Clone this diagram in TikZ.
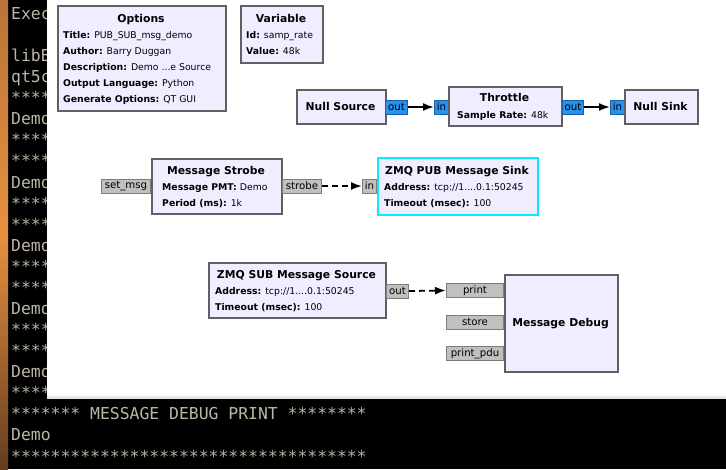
\documentclass[tikz,border=0pt]{standalone}
\usepackage{fontspec}
\setmainfont{DejaVu Sans}
\newfontfamily\termfont{DejaVu Sans Mono}
\usetikzlibrary{arrows.meta}

\definecolor{blkfill}{RGB}{241,236,255}
\definecolor{blkline}{RGB}{96,96,96}
\definecolor{selline}{RGB}{0,240,255}
\definecolor{sportfill}{RGB}{40,145,235}
\definecolor{sportline}{RGB}{25,95,170}
\definecolor{mportfill}{RGB}{192,192,192}
\definecolor{mportline}{RGB}{125,125,125}
\definecolor{termtext}{RGB}{190,182,165}
\definecolor{woodtop}{RGB}{185,115,55}
\definecolor{woodmid}{RGB}{230,145,65}
\definecolor{woodbot}{RGB}{100,60,30}

\tikzset{
  blk/.style={draw=blkline, line width=2pt, fill=blkfill, anchor=north west, inner sep=0pt},
  ttl/.style={font=\fontsize{10.8}{13}\selectfont\bfseries, anchor=base, inner sep=0pt},
  prm/.style={font=\fontsize{9.3}{11}\selectfont, anchor=base west, inner sep=0pt},
  port/.style={font=\fontsize{10.2}{12}\selectfont, minimum height=14pt, inner xsep=0.5pt, inner ysep=0pt, line width=1pt, anchor=west},
  sport/.style={port, fill=sportfill, draw=sportline},
  mport/.style={port, fill=mportfill, draw=mportline},
  flow/.style={line width=1.8pt, -{Latex[length=11pt,width=8pt]}},
  msg/.style={flow, dash pattern=on 6pt off 4pt},
  term/.style={font=\termfont\fontsize{16.4}{20}\selectfont, text=termtext, anchor=base west, inner sep=0pt},
}

\begin{document}
\begin{tikzpicture}[x=1pt, y=-1pt]
\useasboundingbox (0,0) rectangle (726,469);

% terminal behind the flow graph
\fill[black] (0,0) rectangle (726,469);
\shade[top color=woodtop, bottom color=woodbot, middle color=woodmid] (0,0) rectangle (8,469);
\foreach \t [count=\i from 0] in {Exec,{},libB,qt5c,****,Demo,****,****,Demo,****,****,Demo,****,****,Demo,****,****,Demo,****}
   \node[term] (term\i) at (11, 19.5+21.07*\i) {\t};
\node[term] (term19) at (11, 419.8) {******* MESSAGE DEBUG PRINT ********};
\node[term] (term20) at (11, 440.9) {Demo};
\node[term] (term21) at (11, 462) {************************************};

% canvas
\fill[white] (47,0) rectangle (726,396);
\fill[gray!20] (47,396) rectangle (726,398.5);

% Options
\node[blk, minimum width=168pt, minimum height=105pt] (opts) at (57,5) {};
\node[ttl] (optsT) at (141,22) {Options};
\foreach \k/\v [count=\i] in {Title/{PUB\_SUB\_msg\_demo}, Author/{Barry Duggan}, Description/{Demo {...}e Source}, Output Language/{Python}, Generate Options/{QT GUI}}
   \node[prm] (opts\i) at (63, 22.5+16*\i) {\textbf{\k:} \v};

% Variable
\node[blk, minimum width=82pt, minimum height=57pt] (var) at (240,5) {};
\node[ttl] (varT) at (281,22) {Variable};
\foreach \k/\v [count=\i] in {Id/{samp\_rate}, Value/{48k}}
   \node[prm] (var\i) at (246, 22.5+16*\i) {\textbf{\k:} \v};

% stream chain
\node[blk, minimum width=89pt, minimum height=34pt] (src) at (296,89) {};
\node[ttl] (srcT) at (340.5,110) {Null Source};
\node[sport, minimum width=22pt] (srcout) at (385,107) {out};

\node[sport, minimum width=14pt] (thrin) at (434,107) {in};
\node[blk, minimum width=113pt, minimum height=39pt] (thr) at (448,86) {};
\node[ttl] (thrT) at (504.5,101) {Throttle};
\node[prm] (thr1) at (457,118) {\textbf{Sample Rate:} 48k};
\node[sport, minimum width=21pt] (throut) at (562,107) {out};

\node[sport, minimum width=14pt] (sinkin) at (610,107) {in};
\node[blk, minimum width=73pt, minimum height=34pt] (sink) at (624,89) {};
\node[ttl] (sinkT) at (660.5,110) {Null Sink};

\draw[flow] (srcout.east) -- (thrin.west);
\draw[flow] (throut.east) -- (sinkin.west);

% Message Strobe -> ZMQ PUB
\node[mport, anchor=east, minimum width=49pt] (setmsg) at (151,186) {set\_msg};
\node[blk, minimum width=130pt, minimum height=55pt] (strobe) at (151,158) {};
\node[ttl] (strobeT) at (216,174) {Message Strobe};
\foreach \k/\v [count=\i] in {Message PMT/{Demo}, Period (ms)/{1k}}
   \node[prm] (strobe\i) at (162, 174.5+16*\i) {\textbf{\k:} \v};
\node[mport, minimum width=39pt] (strobeout) at (282,186) {strobe};

\node[mport, minimum width=14pt] (pubin) at (362,186) {in};
\node[blk, draw=selline, minimum width=160pt, minimum height=57pt] (pub) at (377,157) {};
\node[ttl] (pubT) at (457,174) {ZMQ PUB Message Sink};
\foreach \k/\v [count=\i] in {Address/{tcp://1{....}0.1:50245}, Timeout (msec)/{100}}
   \node[prm] (pub\i) at (384, 174.5+16*\i) {\textbf{\k:} \v};

\draw[msg] (strobeout.east) -- (pubin.west);

% ZMQ SUB -> Message Debug
\node[blk, minimum width=177pt, minimum height=55pt] (sub) at (208,262) {};
\node[ttl] (subT) at (296.5,278) {ZMQ SUB Message Source};
\foreach \k/\v [count=\i] in {Address/{tcp://1{....}0.1:50245}, Timeout (msec)/{100}}
   \node[prm] (sub\i) at (215, 278.5+16*\i) {\textbf{\k:} \v};
\node[mport, minimum width=22pt] (subout) at (386,291) {out};

\node[blk, minimum width=113pt, minimum height=97pt] (dbg) at (504,274) {};
\node[ttl] (dbgT) at (560.5,326) {Message Debug};
\node[mport, anchor=east, minimum width=57pt] (dbgprint) at (504,290.5) {print};
\node[mport, anchor=east, minimum width=57pt] (dbgstore) at (504,322) {store};
\node[mport, anchor=east, minimum width=57pt] (dbgpdu) at (504,353.5) {print\_pdu};

\draw[msg] (subout.east) -- (dbgprint.west);
\end{tikzpicture}
\end{document}
